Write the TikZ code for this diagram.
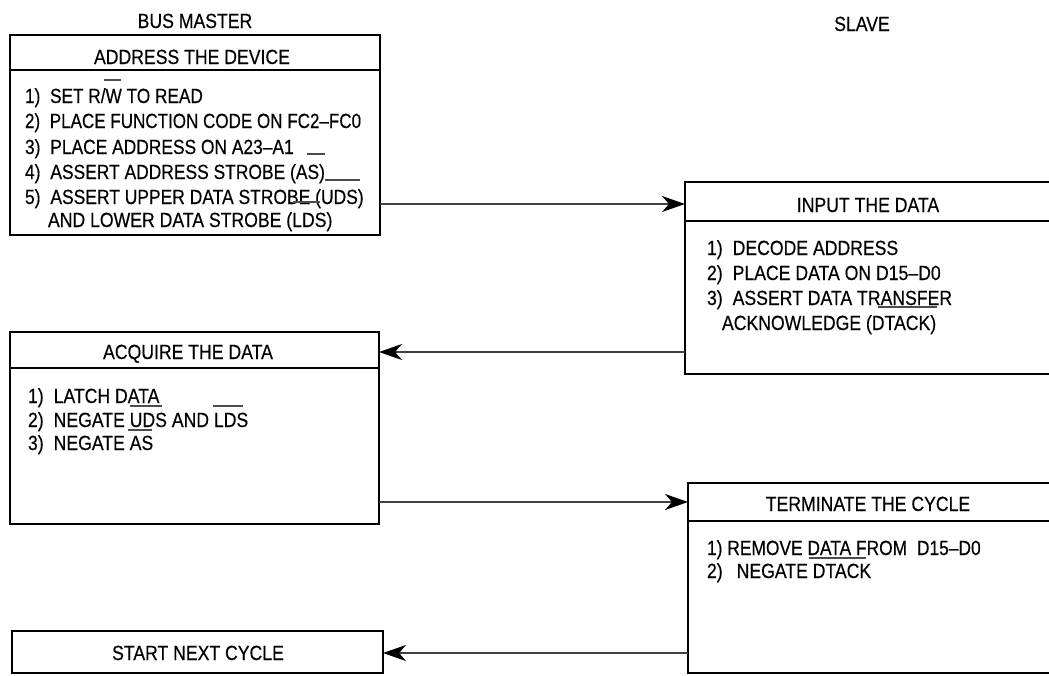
\documentclass[tikz,border=0pt]{standalone}
\usepackage{graphicx}
\usepackage{fontspec}
\setmainfont{Liberation Sans}[FakeStretch=0.86,FakeBold=0.4]
\usetikzlibrary{arrows.meta}
\newcommand\mygap{\hspace{10pt}}
\newcommand\squeeze[2]{\scalebox{#1}[1]{#2}}
\begin{document}
\begin{tikzpicture}[x=1pt,y=-1pt,
  box/.style={draw=black, line width=2.8pt, rectangle, inner sep=0pt, outer sep=0pt, anchor=north west},
  divider/.style={draw=black, line width=2.8pt},
  arr/.style={draw=black!75, line width=1.8pt, -{Stealth[length=23pt,width=16pt,inset=7pt,fill=black,color=black]}},
  txt/.style={inner sep=0pt, outer sep=0pt, anchor=base west, font=\fontsize{20.5}{24}\selectfont},
  ctxt/.style={txt, anchor=base},
  bar/.style={draw=black!70, line width=1.3pt}]
\useasboundingbox (0,0) rectangle (1049,675);
% boxes
\node[box, minimum width=370pt, minimum height=200pt] (b1) at (10,35) {};
\node[box, minimum width=380pt, minimum height=192pt] (b2) at (685,182) {};
\node[box, minimum width=369pt, minimum height=192pt] (b3) at (10,332) {};
\node[box, minimum width=380pt, minimum height=190pt] (b4) at (688,483) {};
\node[box, minimum width=371pt, minimum height=42pt] (b5) at (12,631) {};
% divider levels
\coordinate (d1) at (0,70);
\coordinate (d2) at (0,221);
\coordinate (d3) at (0,368);
\coordinate (d4) at (0,521);
\draw[divider] (b1.west |- d1) -- (b1.east |- d1);
\draw[divider] (b2.west |- d2) -- (b2.east |- d2);
\draw[divider] (b3.west |- d3) -- (b3.east |- d3);
\draw[divider] (b4.west |- d4) -- (b4.east |- d4);
% connector levels
\coordinate (y1) at (0,204);
\coordinate (y2) at (0,352);
\coordinate (y3) at (0,502);
\coordinate (y4) at (0,653);
\draw[arr] (b1.east |- y1) -- (b2.west |- y1);
\draw[arr] (b2.west |- y2) -- (b3.east |- y2);
\draw[arr] (b3.east |- y3) -- (b4.west |- y3);
\draw[arr] (b4.west |- y4) -- (b5.east |- y4);
% titles
\node[ctxt] (hbm) at (195,28) {BUS MASTER};
\node[ctxt] (hsl) at (862,31) {SLAVE};
\node[ctxt] (t1) at (192,64) {ADDRESS THE DEVICE};
\node[ctxt] (t2) at (868,212) {INPUT THE DATA};
\node[ctxt] (t3) at (188,359) {ACQUIRE THE DATA};
\node[ctxt] (t4) at (868,511) {TERMINATE THE CYCLE};
\node[ctxt] (t5) at (198,660) {START NEXT CYCLE};
% box 1 body
\node[txt] (a1) at (25,103) {\squeeze{0.977}{1)\mygap SET R/W TO READ}};
\node[txt] (a2) at (25,128) {\squeeze{0.966}{2)\mygap PLACE FUNCTION CODE ON FC2–FC0}};
\node[txt] (a3) at (25,154) {\squeeze{0.986}{3)\mygap PLACE ADDRESS ON A23–A1}};
\node[txt] (a4) at (25,179) {\squeeze{0.988}{4)\mygap ASSERT ADDRESS STROBE (AS)}};
\node[txt] (a5) at (25,204) {\squeeze{0.99}{5)\mygap ASSERT UPPER DATA STROBE (UDS)}};
\node[txt] (a6) at (48,227) {AND LOWER DATA STROBE (LDS)};
\draw[bar] (104,80) -- (121,80);
\draw[bar] (307,154) -- (325,154);
\draw[bar] (325,180) -- (360,180);
\draw[bar] (293,202) -- (320,202);
% box 2 body
\node[txt] (c1) at (707,255) {1)\mygap DECODE ADDRESS};
\node[txt] (c2) at (707,280) {2)\mygap PLACE DATA ON D15–D0};
\node[txt] (c3) at (707,305) {3)\mygap ASSERT DATA TRANSFER};
\node[txt] (c4) at (722,330) {ACKNOWLEDGE (DTACK)};
\draw[bar] (878,307) -- (937,307);
% box 3 body
\node[txt] (e1) at (28,403) {1)\mygap LATCH DATA};
\node[txt] (e2) at (28,427) {2)\mygap NEGATE UDS AND LDS};
\node[txt] (e3) at (28,450) {3)\mygap NEGATE AS};
\draw[bar] (130,406) -- (162,406);
\draw[bar] (213,406) -- (243,406);
\draw[bar] (128,430) -- (152,430);
% box 4 body
\node[txt] (g1) at (707,555) {\squeeze{0.985}{1)\hspace{5pt}REMOVE DATA FROM\hspace{10pt}D15–D0}};
\node[txt] (g2) at (707,578) {2)\hspace{14pt}NEGATE DTACK};
\draw[bar] (809,558) -- (866,558);
\end{tikzpicture}
\end{document}
